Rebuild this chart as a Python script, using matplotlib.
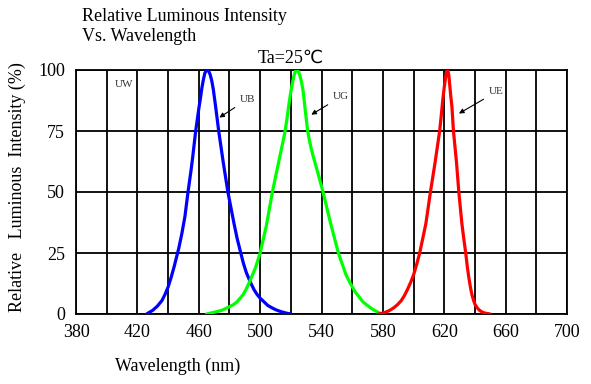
import matplotlib
matplotlib.use("Agg")
import matplotlib.pyplot as plt

# spectra (wavelength nm, relative intensity %)
ub_nm = [426, 430, 433, 436, 438, 440, 442, 444, 445, 447, 449, 451, 453, 455, 456, 458,
         460, 461, 462, 463, 464, 465, 465.5, 466.5, 467.5, 468.5, 469.5, 471, 473, 474.5,
         476, 477.5, 479, 481, 483, 485, 487, 489, 491, 493.5, 496, 498, 500, 502.5,
         505, 507.5, 510, 512.5, 515, 517.5, 520]
ub_val = [0, 1.5, 3.2, 5.5, 8, 11, 15, 19.5, 22, 27, 33, 40, 50, 59, 64, 75,
          84, 88, 92.5, 96, 98.8, 99.8, 100, 99.5, 98, 95.5, 92, 85, 75, 68.5,
          62, 56, 50, 43.5, 37, 31, 26, 21, 17, 13.2, 10, 8, 6.5, 5,
          3.5, 2.6, 1.8, 1.2, 0.7, 0.3, 0]

ug_nm = [465, 470, 475, 480, 483, 485, 487, 489, 491, 493, 495, 497, 498.5, 500, 502, 504,
         506, 508, 510, 512, 514, 516, 517.5, 519, 520, 521, 522, 523, 524, 525,
         526, 527, 528, 529.5, 531, 532.5, 534, 536, 538, 541, 543.5, 546, 548.5, 551,
         553.5, 556, 559, 562, 564.5, 567, 569.5, 572, 574, 576, 577.5, 579]
ug_val = [0, 0.7, 1.5, 3, 4, 5, 6.5, 8, 10.3, 13, 16, 19, 22, 25, 30.5, 36,
          43, 50, 56, 62, 68, 74, 80, 87, 91, 94.5, 97.5, 99.5, 100, 99.5,
          97.5, 95, 91.5, 83, 75, 70, 66, 61.5, 57, 50, 43.5, 37, 31, 25,
          20.5, 16, 12.3, 9, 7, 5, 3.7, 2.5, 1.7, 1, 0.5, 0]

ue_nm = [577, 579.5, 582, 584.5, 587, 589.5, 592, 594, 596, 598, 600, 602, 604, 606, 608,
         609.5, 611, 612.5, 614, 615.5, 617, 618, 619, 620, 621, 621.5, 622, 622.5, 623,
         623.7, 624.3, 625, 626, 627, 628, 629.5, 630.5, 631.5, 632.7, 634, 635, 636,
         637, 638, 639, 640, 641.5, 643, 645, 647, 650]
ue_val = [0, 0.3, 0.8, 1.5, 2.5, 3.8, 5.5, 7.5, 10, 12.8, 16, 20.3, 25, 31, 37,
          43.5, 50, 56, 62, 68.5, 75, 81, 87.5, 93, 97.5, 99.2, 100, 99.5, 97.8,
          93, 89, 85, 75, 68.5, 62, 50, 43.5, 37, 31, 25, 19.5, 15,
          11.2, 8, 5.8, 4, 2.5, 1.5, 0.7, 0.3, 0]

x_ticks = [380, 420, 460, 500, 540, 580, 620, 660, 700]
x_grid = list(range(380, 701, 20))
y_ticks = [0, 25, 50, 75, 100]

plt.rcParams['font.family'] = ['Liberation Serif', 'DejaVu Sans']

fig = plt.figure(figsize=(5.91, 3.84), dpi=100)
ax = fig.add_axes([76 / 591, 1 - 314 / 384, 491 / 591, 244 / 384])

ax.set_xlim(380, 700)
ax.set_ylim(0, 100)
for gx in x_grid:
    ax.axvline(gx, color="black", lw=1.3, zorder=1)
for gy in y_ticks:
    ax.axhline(gy, color="black", lw=1.3, zorder=1)
for sp in ax.spines.values():
    sp.set_linewidth(1.3)

style = dict(lw=2.3, zorder=3, solid_capstyle="round", solid_joinstyle="round")
ax.plot(ub_nm, ub_val, color="#0000ff", **style)
ax.plot(ug_nm, ug_val, color="#00ff00", **style)
ax.plot(ue_nm, ue_val, color="#ff0000", **style)

ax.set_xticks(x_ticks)
ax.set_yticks(y_ticks)
ax.tick_params(length=0, labelsize=13, pad=7)
ax.tick_params(axis="y", pad=8)

# labels on the curves
ax.text(405, 94, "UW", fontsize=8, va="center", color="#333333")
arrow = dict(arrowstyle="-|>", color="black", lw=0.8, mutation_scale=7)
ax.annotate("UB", xy=(471.9, 79.9), xytext=(486.8, 88), fontsize=8,
            va="center", color="#333333", arrowprops=arrow)
ax.annotate("UG", xy=(531.8, 81.1), xytext=(547.4, 89), fontsize=8,
            va="center", color="#333333", arrowprops=arrow)
ax.annotate("UE", xy=(628, 81.6), xytext=(649, 91), fontsize=8,
            va="center", color="#333333", arrowprops=arrow)

fig.text(82 / 591, 1 - 8 / 384, "Relative Luminous Intensity\nVs. Wavelength",
         fontsize=13, va="top", ha="left", linespacing=1.2)
fig.text(291 / 591, 1 - 58 / 384, "Ta=25℃", fontsize=13, ha="center", va="center")
fig.text(17 / 591, 1 - 187 / 384, "Relative   Luminous  Intensity (%)",
         fontsize=13, rotation=90, ha="center", va="center")
fig.text(115 / 591, 1 - 366 / 384, "Wavelength (nm)", fontsize=13,
         ha="left", va="center")

fig.savefig("out.png", dpi=100)
